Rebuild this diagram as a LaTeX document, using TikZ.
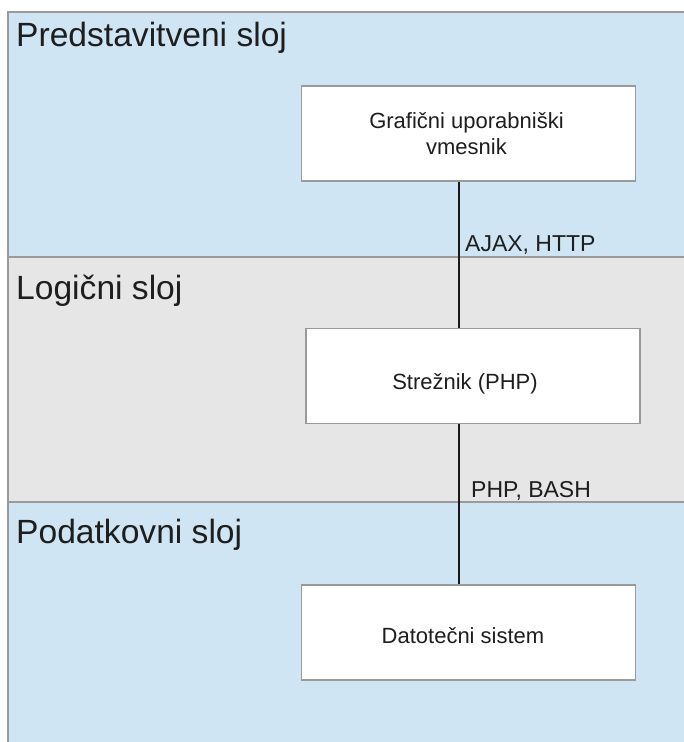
\documentclass[tikz,border=0pt]{standalone}
\usepackage{fontspec}
\setmainfont{Liberation Sans}
\definecolor{layerblue}{HTML}{CFE5F3}
\definecolor{layergray}{HTML}{E6E6E6}
\definecolor{edgegray}{HTML}{9A9A9A}
\definecolor{txt}{HTML}{1E1E1E}
\begin{document}
\begin{tikzpicture}[x=1pt,y=-1pt,
  layerbox/.style={draw=edgegray,line width=1.6pt},
  layertitle/.style={anchor=base west,inner sep=0pt,text=txt,font=\fontsize{33.6}{40}\selectfont},
  compbox/.style={draw=edgegray,fill=white,line width=1.2pt,minimum width=334pt,minimum height=95pt,
    align=center,text=txt,inner sep=0pt,font=\fontsize{22}{25.3}\selectfont},
  conlabel/.style={anchor=base west,inner sep=0pt,text=txt,font=\fontsize{23}{27}\selectfont},
  conn/.style={draw=black!90,line width=2pt}]
\useasboundingbox (0,0) rectangle (684,742);
\clip (0,0) rectangle (684,742);
\fill[white] (0,0) rectangle (684,742);
% layers
\draw[layerbox,fill=layerblue] (8,12) rectangle (700,257);
\draw[layerbox,fill=layergray] (8,257) rectangle (700,502);
\draw[layerbox,fill=layerblue] (8,502) rectangle (700,760);
\node[layertitle] (t1) at (16,46) {Predstavitveni sloj};
\node[layertitle] (t2) at (16,299) {Logični sloj};
\node[layertitle] (t3) at (16,543) {Podatkovni sloj};
% components
\node[compbox] (gui) at (468.5,133.5) {\hspace*{-4pt}Grafični uporabniški\\\hspace*{-4pt}vmesnik};
\node[compbox,text height=26.4pt,text depth=0pt] (srv) at (473,375.8) {\hspace*{-16pt}Strežnik (PHP)};
\node[compbox,text height=21pt,text depth=0pt] (fs) at (468.5,632.5) {\hspace*{-11pt}Datotečni sistem};
% connectors
\coordinate (lx) at (459,0);
\draw[conn] (lx |- gui.south) -- (lx |- srv.north);
\draw[conn] (lx |- srv.south) -- (lx |- fs.north);
\node[conlabel] (l1) at (465,251.5) {AJAX, HTTP};
\node[conlabel] (l2) at (471,497) {PHP, BASH};
\end{tikzpicture}
\end{document}
